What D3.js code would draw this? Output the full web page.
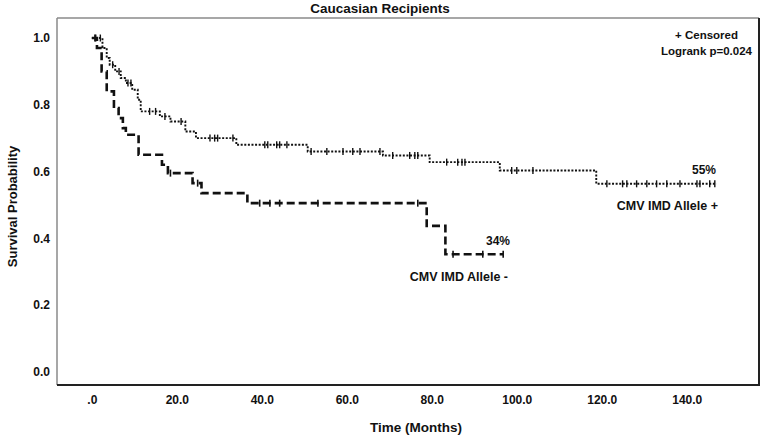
<!DOCTYPE html>
<html>
<head>
<meta charset="utf-8">
<script src="https://cdn.jsdelivr.net/npm/d3@7/dist/d3.min.js"></script>
<style>
  html, body { margin: 0; padding: 0; background: #fff; }
  svg { display: block; }
  text { font-family: "Liberation Sans", Arial, sans-serif; fill: #111; }
</style>
</head>
<body>
<svg id="chart" width="765" height="445"></svg>
<script>
// ---- data ----
const timeTicks = [0, 20, 40, 60, 80, 100, 120, 140];
const timeTickLabels = [".0", "20.0", "40.0", "60.0", "80.0", "100.0", "120.0", "140.0"];
const survTicks = [0, 0.2, 0.4, 0.6, 0.8, 1.0];
const survTickLabels = ["0.0", "0.2", "0.4", "0.6", "0.8", "1.0"];

// CMV IMD Allele + (dotted)
const plusTimes = [0, 2.5, 3.5, 4.2, 5.5, 6.8, 8.0, 9.5, 10.8, 11.5, 16, 18.5, 22, 24.5, 34, 50.8, 68.5, 79.5, 96, 118.7];
const plusSurv  = [1.0, 0.97, 0.94, 0.92, 0.90, 0.88, 0.865, 0.845, 0.815, 0.78, 0.765, 0.75, 0.72, 0.70, 0.68, 0.66, 0.648, 0.628, 0.603, 0.563];
const plusEnd = 147;
const plusCensor = [0.7, 2.0, 4.9, 6.4, 8.5, 9.2, 13.6, 15, 17.2, 21.0, 27.8, 28.9, 29.6, 33.2, 40.7, 41.4, 43.5, 44.2, 45.9, 51.6, 55.3, 59.1, 61.4, 63.1, 67.8, 70.8, 74.8, 76, 76.7, 83.5, 86.1, 87.1, 87.8, 98.8, 100, 103.8, 121.2, 124.9, 125.9, 128.2, 130.6, 132.9, 135.3, 138.4, 142.4, 143.1, 145.4, 146.6];

// CMV IMD Allele - (dashed)
const minusTimes = [0, 1.2, 2.3, 3.5, 5.2, 6.3, 7.3, 8.0, 11.0, 16.5, 17.9, 23.7, 25.8, 36.6, 78.8, 83.2];
const minusSurv  = [1.0, 0.97, 0.90, 0.84, 0.79, 0.76, 0.73, 0.71, 0.65, 0.62, 0.595, 0.565, 0.535, 0.505, 0.437, 0.352];
const minusEnd = 96.8;
const minusCensor = [0.9, 18.5, 24.9, 39.5, 41.9, 44.2, 53.2, 76.7, 85, 92, 96.8];

const title = "Caucasian Recipients";
const xTitle = "Time (Months)";
const yTitle = "Survival Probability";

// ---- layout ----
const svg = d3.select("#chart");
const L = 57, R = 759, T = 18, B = 385;
const x = d3.scaleLinear().domain([-8.2, 157]).range([L, R]);
const y = d3.scaleLinear().domain([-0.04, 1.06]).range([B, T]);

// frame
svg.append("line").attr("x1", L).attr("x2", L).attr("y1", T).attr("y2", B).attr("stroke", "#8a8a8a").attr("stroke-width", 1.5);
svg.append("line").attr("x1", L).attr("x2", R).attr("y1", T).attr("y2", T).attr("stroke", "#8a8a8a").attr("stroke-width", 1.5);
svg.append("line").attr("x1", L).attr("x2", R + 1).attr("y1", B).attr("y2", B).attr("stroke", "#222").attr("stroke-width", 2);
svg.append("line").attr("x1", R).attr("x2", R).attr("y1", T).attr("y2", B).attr("stroke", "#222").attr("stroke-width", 2);

// axes (labels only, no tick marks)
const xAxis = d3.axisBottom(x).tickValues(timeTicks).tickSize(0).tickPadding(10)
  .tickFormat((d, i) => timeTickLabels[i]);
const gx = svg.append("g").attr("transform", `translate(0,${B})`).call(xAxis);
gx.select(".domain").remove();
gx.selectAll("text").attr("font-size", 12).attr("font-weight", "bold").style("font-family", "'Liberation Sans', Arial, sans-serif").attr("fill", "#111");

const yAxis = d3.axisLeft(y).tickValues(survTicks).tickSize(0).tickPadding(7)
  .tickFormat((d, i) => survTickLabels[i]);
const gy = svg.append("g").attr("transform", `translate(${L},0)`).call(yAxis);
gy.select(".domain").remove();
gy.selectAll("text").attr("font-size", 12).attr("font-weight", "bold").style("font-family", "'Liberation Sans', Arial, sans-serif").attr("fill", "#111");

// titles
svg.append("text").attr("x", 380).attr("y", 13).attr("text-anchor", "middle")
  .attr("font-size", 13.5).attr("font-weight", "bold").text(title);
svg.append("text").attr("x", 416).attr("y", 432).attr("text-anchor", "middle")
  .attr("font-size", 13.5).attr("font-weight", "bold").text(xTitle);
svg.append("text").attr("transform", `translate(17,${(T + B) / 2 + 5}) rotate(-90)`).attr("text-anchor", "middle")
  .attr("font-size", 13).attr("font-weight", "bold").text(yTitle);

// step curves
function stepData(times, surv, end) {
  const pts = times.map((t, i) => [t, surv[i]]);
  pts.push([end, surv[surv.length - 1]]);
  return pts;
}
function survAt(times, surv, t) {
  let s = surv[0];
  for (let i = 0; i < times.length; i++) if (times[i] <= t) s = surv[i];
  return s;
}
const line = d3.line().x(d => x(d[0])).y(d => y(d[1])).curve(d3.curveStepAfter);

svg.append("path").datum(stepData(minusTimes, minusSurv, minusEnd))
  .attr("d", line).attr("fill", "none").attr("stroke", "#111")
  .attr("stroke-width", 2.6).attr("stroke-dasharray", "8,4");

svg.append("path").datum(stepData(plusTimes, plusSurv, plusEnd))
  .attr("d", line).attr("fill", "none").attr("stroke", "#111")
  .attr("stroke-width", 1.9).attr("stroke-dasharray", "2,1.6");

// censor marks
function censors(times, surv, cens, w) {
  svg.append("g").selectAll("line").data(cens).join("line")
    .attr("x1", d => x(d)).attr("x2", d => x(d))
    .attr("y1", d => y(survAt(times, surv, d)) - 3.5)
    .attr("y2", d => y(survAt(times, surv, d)) + 3.5)
    .attr("stroke", "#111").attr("stroke-width", w);
}
censors(minusTimes, minusSurv, minusCensor, 1.6);
censors(plusTimes, plusSurv, plusCensor, 1.4);

// annotations
svg.append("text").attr("x", 716).attr("y", 174).attr("text-anchor", "end")
  .attr("font-size", 12).attr("font-weight", "bold").text("55%");
svg.append("text").attr("x", 718).attr("y", 210).attr("text-anchor", "end")
  .attr("font-size", 12.5).attr("font-weight", "bold").text("CMV IMD Allele +");
svg.append("text").attr("x", 510).attr("y", 245).attr("text-anchor", "end")
  .attr("font-size", 12).attr("font-weight", "bold").text("34%");
svg.append("text").attr("x", 508).attr("y", 281).attr("text-anchor", "end")
  .attr("font-size", 12.5).attr("font-weight", "bold").text("CMV IMD Allele -");

// legend
svg.append("text").attr("x", 738).attr("y", 39).attr("text-anchor", "end")
  .attr("font-size", 11.5).attr("font-weight", "bold").text("+ Censored");
svg.append("text").attr("x", 752).attr("y", 55).attr("text-anchor", "end")
  .attr("font-size", 11.5).attr("font-weight", "bold").text("Logrank p=0.024");
</script>
</body>
</html>
